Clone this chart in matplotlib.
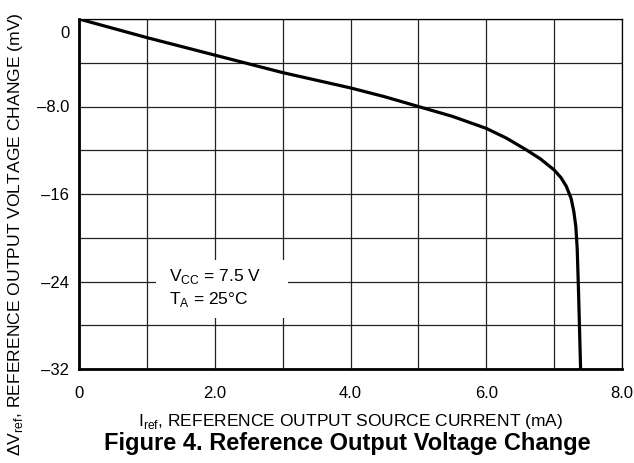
import matplotlib.pyplot as plt
import matplotlib.transforms as mtransforms
from matplotlib.patches import Rectangle

# reference output source current (mA) vs change in Vref (mV)
i_ref = [0, 1.0, 2.0, 3.0, 4.0, 4.5, 5.0, 5.5, 6.0, 6.3, 6.6, 6.8, 7.0, 7.1, 7.18, 7.25, 7.29, 7.32, 7.34, 7.36, 7.39]
dv_ref = [0, -1.7, -3.3, -4.9, -6.3, -7.1, -8.0, -8.9, -10.0, -10.9, -12.0, -12.8, -13.8, -14.5, -15.3, -16.4, -17.6, -19.0, -21.0, -25.0, -32.0]

x_ticks = [0, 2, 4, 6, 8]
x_labels = ["0", "2.0", "4.0", "6.0", "8.0"]
y_ticks = [0, -8, -16, -24, -32]
y_labels = ["0", "\u20138.0", "\u201316", "\u201324", "\u201332"]

plt.rcParams["font.family"] = ["Liberation Sans", "DejaVu Sans"]

fig = plt.figure(figsize=(6.34, 4.63), dpi=100)
ax = fig.add_axes([79 / 634, 1 - 369 / 463, (622 - 79) / 634, (369 - 19) / 463])

ax.plot(i_ref, dv_ref, color="black", linewidth=2.3, solid_joinstyle="round", zorder=3)

ax.set_xlim(0, 8)
ax.set_ylim(-32, 0)
ax.grid(True, color="#222222", linewidth=0.9)
ax.tick_params(length=0, labelsize=12)
ax.tick_params(axis="x", pad=12)
ax.tick_params(axis="y", pad=7)

# gridlines every 1 mA / 4 mV, only every other one carries a label
x_grid = list(range(9))
y_grid = list(range(0, -33, -4))
ax.set_xticks(x_grid)
ax.set_xticklabels([x_labels[x_ticks.index(t)] if t in x_ticks else "" for t in x_grid])
ax.set_yticks(y_grid)
ax.set_yticklabels([y_labels[y_ticks.index(t)] if t in y_ticks else "" for t in y_grid])

# the "0" label sits a little below the top edge
zero_lbl = ax.get_yticklabels()[0]
zero_lbl.set_transform(zero_lbl.get_transform() + mtransforms.ScaledTranslation(0, -13 / 100, fig.dpi_scale_trans))

for side in ["top", "right"]:
    ax.spines[side].set_linewidth(0.9)
for side in ["left", "bottom"]:
    ax.spines[side].set_linewidth(2.0)

# white patch behind the conditions note
ax.add_patch(Rectangle((1.13, -27.3), 1.95, 5.3, facecolor="white", edgecolor="none", zorder=2.5))
ax.text(
    1.32, -24.6,
    "V$_{\\mathregular{CC}}$ = 7.5 V\nT$_{\\mathregular{A}}$ = 25\u00b0C",
    fontsize=12.5, va="center", ha="left", linespacing=1.3, zorder=4,
)

ax.set_xlabel("I$_{\\mathregular{ref}}$, REFERENCE OUTPUT SOURCE CURRENT (mA)", fontsize=12.5, labelpad=8)
ax.set_ylabel("\u0394V$_{\\mathregular{ref}}$, REFERENCE OUTPUT VOLTAGE CHANGE (mV)", fontsize=12.6)
ax.yaxis.set_label_coords(-0.1, 0.385)

fig.text(347 / 634, 1 - 450 / 463, "Figure 4. Reference Output Voltage Change",
         fontsize=17, fontweight="bold", ha="center", va="baseline")

fig.savefig("out.png", dpi=100)
